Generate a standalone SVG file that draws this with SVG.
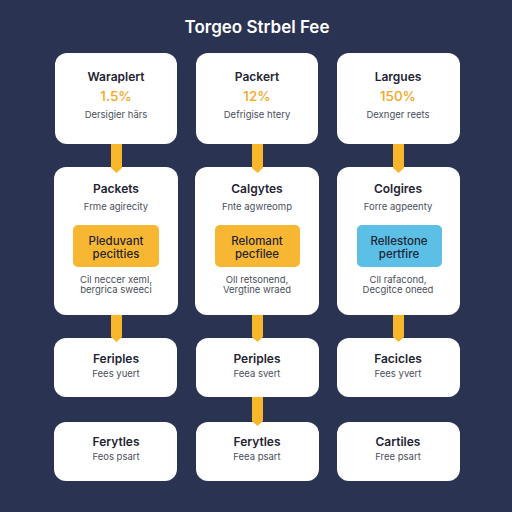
<svg xmlns="http://www.w3.org/2000/svg" width="512" height="512" viewBox="0 0 512 512">
<style>
.box{fill:#ffffff}
.t{font-family:Inter,"Noto Sans","Liberation Sans",sans-serif;text-anchor:middle}
.h{font-size:12px;font-weight:600;fill:#1f2433}
.p{font-size:13.5px;font-weight:500;fill:#f5a623}
.s{font-size:9.5px;fill:#4a4f5c}
.b{font-size:11.5px;font-weight:500;fill:#1f2433}
.c{fill:#f8b62b}
</style>
<rect width="512" height="512" fill="#2a3352"/>
<text class="t" x="257" y="33" font-size="17" font-weight="600" fill="#ffffff">Torgeo Strbel Fee</text>

<g id="n1"><rect class="box" x="55" y="53" width="122" height="91" rx="12"/>
<text class="t h" x="116" y="81">Waraplert</text><text class="t p" x="116" y="101">1.5%</text><text class="t s" x="116" y="118">Dersigier härs</text></g>
<g id="n2"><rect class="box" x="196" y="53" width="122" height="91" rx="12"/>
<text class="t h" x="257" y="81">Packert</text><text class="t p" x="257" y="101">12%</text><text class="t s" x="257" y="118">Defrigise htery</text></g>
<g id="n3"><rect class="box" x="337" y="53" width="123" height="91" rx="12"/>
<text class="t h" x="398" y="81">Largues</text><text class="t p" x="398" y="101">150%</text><text class="t s" x="398" y="118">Dexnger reets</text></g>

<g id="n4"><rect class="box" x="54" y="167" width="124" height="148" rx="12"/>
<text class="t h" x="116" y="193">Packets</text><text class="t s" x="116" y="210">Frme agirecity</text>
<rect x="73" y="225" width="86" height="42" rx="5" fill="#f8b733"/>
<text class="t b" x="116" y="245">Pleduvant</text><text class="t b" x="116" y="258">pecitties</text>
<text class="t s" x="116" y="283">Cil neccer xeml,</text><text class="t s" x="116" y="293">bergrica sweeci</text></g>
<g id="n5"><rect class="box" x="195" y="167" width="124" height="148" rx="12"/>
<text class="t h" x="257" y="193">Calgytes</text><text class="t s" x="257" y="210">Fnte agwreomp</text>
<rect x="215" y="225" width="85" height="42" rx="5" fill="#f8b733"/>
<text class="t b" x="257" y="245">Relomant</text><text class="t b" x="257" y="258">pecfilee</text>
<text class="t s" x="257" y="283">Oll retsonend,</text><text class="t s" x="257" y="293">Vergtine wraed</text></g>
<g id="n6"><rect class="box" x="337" y="167" width="123" height="148" rx="12"/>
<text class="t h" x="398" y="193">Colgires</text><text class="t s" x="398" y="210">Forre agpeenty</text>
<rect x="357" y="225" width="85" height="42" rx="5" fill="#5bbfe6"/>
<text class="t b" x="399" y="245">Rellestone</text><text class="t b" x="399" y="258">pertfire</text>
<text class="t s" x="398" y="283">Cll rafacond,</text><text class="t s" x="398" y="293">Decgitce oneed</text></g>

<g id="n7"><rect class="box" x="54" y="338" width="123" height="59" rx="12"/>
<text class="t h" x="116" y="363">Feriples</text><text class="t s" x="116" y="377">Fees yuert</text></g>
<g id="n8"><rect class="box" x="196" y="338" width="123" height="59" rx="12"/>
<text class="t h" x="257" y="363">Periples</text><text class="t s" x="257" y="377">Feea svert</text></g>
<g id="n9"><rect class="box" x="337" y="338" width="123" height="59" rx="12"/>
<text class="t h" x="398" y="363">Facicles</text><text class="t s" x="398" y="377">Fees yvert</text></g>

<g id="n10"><rect class="box" x="54" y="422" width="123" height="59" rx="12"/>
<text class="t h" x="116" y="446">Ferytles</text><text class="t s" x="116" y="460">Feos psart</text></g>
<g id="n11"><rect class="box" x="196" y="422" width="123" height="59" rx="12"/>
<text class="t h" x="257" y="446">Ferytles</text><text class="t s" x="257" y="460">Feea psart</text></g>
<g id="n12"><rect class="box" x="337" y="422" width="123" height="59" rx="12"/>
<text class="t h" x="398" y="446">Cartiles</text><text class="t s" x="398" y="460">Free psart</text></g>

<g id="connectors">
<polygon class="c" points="111,144 122,144 122,168 116.5,173 111,168"/>
<polygon class="c" points="252,144 263,144 263,168 257.5,173 252,168"/>
<polygon class="c" points="393,144 404,144 404,168 398.5,173 393,168"/>
<polygon class="c" points="111,315 122,315 122,337 116.5,342 111,337"/>
<polygon class="c" points="252,315 263,315 263,337 257.5,342 252,337"/>
<polygon class="c" points="393,315 404,315 404,337 398.5,342 393,337"/>
<polygon class="c" points="252,397 263,397 263,421 257.5,426 252,421"/>
</g>
</svg>
